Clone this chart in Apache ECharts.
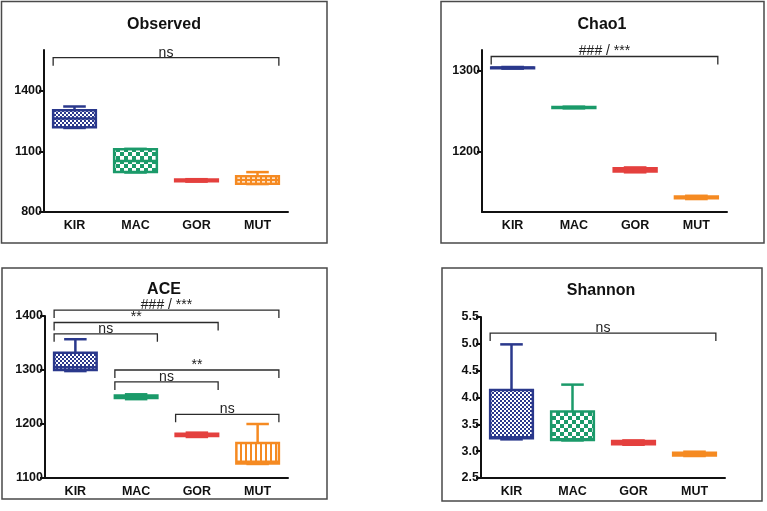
<!DOCTYPE html>
<html>
<head>
<meta charset="utf-8">
<script src="https://cdn.jsdelivr.net/npm/echarts@6/dist/echarts.min.js"></script>
<style>
html,body{margin:0;padding:0;background:#fff;}
#c{width:767px;height:511px;}
</style>
</head>
<body>
<div id="c"></div>
<script>
// ---------------- data ----------------
const categories = ['KIR', 'MAC', 'GOR', 'MUT'];
const panelTitles = ['Observed', 'Chao1', 'ACE', 'Shannon'];

// each box: [min, Q1, median, Q3, max]
const observedBoxes = [
  [1215, 1218, 1262, 1302, 1321],
  [995, 997, 1052, 1110, 1112],
  [950, 952, 956, 960, 962],
  [938, 940, 958, 977, 997]
];
const chao1Boxes = [
  [1302, 1302.5, 1303, 1303.5, 1304],
  [1253, 1253.5, 1254, 1254.5, 1255],
  [1174, 1175, 1177, 1179, 1180],
  [1141, 1142, 1143, 1144, 1145]
];
const aceBoxes = [
  [1298, 1300, 1305, 1332, 1357],
  [1246, 1248, 1250, 1253, 1255],
  [1176, 1178, 1180, 1182, 1184],
  [1126, 1127, 1130, 1165, 1200]
];
const shannonBoxes = [
  [3.22, 3.24, 3.26, 4.14, 4.99],
  [3.20, 3.21, 3.22, 3.74, 4.24],
  [3.12, 3.13, 3.16, 3.19, 3.20],
  [2.91, 2.92, 2.94, 2.97, 2.99]
];

// significance brackets: [fromCategory, toCategory, level, label]
const observedBrackets = [[0, 3, 1562, 'ns']];
const chao1Brackets = [[0, 3, 1317, '### / ***']];
const aceBrackets = [
  [0, 3, 1411, '### / ***'],
  [0, 2, 1388, '**'],
  [0, 1, 1367, 'ns'],
  [1, 3, 1300, '**'],
  [1, 2, 1278, 'ns'],
  [2, 3, 1218, 'ns']
];
const shannonBrackets = [[0, 3, 5.2, 'ns']];

// axis ranges and tick labels
const observedTicks = [800, 1100, 1400];
const chao1Ticks = [1200, 1300];
const aceTicks = [1100, 1200, 1300, 1400];
const shannonTicks = [2.5, 3.0, 3.5, 4.0, 4.5, 5.0, 5.5];
const yRanges = [[800, 1600], [1125, 1325], [1100, 1400], [2.5, 5.5]];

// ---------------- styles ----------------
const COLORS = ['#2a388c', '#1b9a6a', '#e4403e', '#f58a22'];
const FONT = 'Liberation Sans, Arial, sans-serif';

function checker(color, cell) {
  const c = document.createElement('canvas');
  c.width = cell * 2; c.height = cell * 2;
  const g = c.getContext('2d');
  g.fillStyle = '#ffffff'; g.fillRect(0, 0, c.width, c.height);
  g.fillStyle = color;
  g.fillRect(0, 0, cell, cell);
  g.fillRect(cell, cell, cell, cell);
  return c;
}
function vstripes(color) {
  const c = document.createElement('canvas');
  c.width = 5; c.height = 4;
  const g = c.getContext('2d');
  g.fillStyle = '#ffffff'; g.fillRect(0, 0, 5, 4);
  g.fillStyle = color; g.fillRect(0, 0, 2, 4);
  return c;
}
const FILLS = [
  { image: checker(COLORS[0], 2), repeat: 'repeat' },
  { image: checker(COLORS[1], 4), repeat: 'repeat' },
  COLORS[2],
  { image: vstripes(COLORS[3]), repeat: 'repeat' }
];

const boxesList = [observedBoxes, chao1Boxes, aceBoxes, shannonBoxes];
const bracketsList = [observedBrackets, chao1Brackets, aceBrackets, shannonBrackets];
const ticksList = [observedTicks, chao1Ticks, aceTicks, shannonTicks];

const grids = [
  { left: 44, top: 50, width: 244, height: 162 },
  { left: 482, top: 50, width: 245, height: 162 },
  { left: 45, top: 316, width: 243, height: 162 },
  { left: 481, top: 317, width: 244, height: 161 }
];
const frames = [
  [1.5, 1.5, 325.5, 241.5],
  [441, 1.5, 323, 241.5],
  [2, 268, 325, 231],
  [442, 268, 320, 233]
];
const titlePos = [[164, 25], [602, 25], [164, 290], [601, 291]];

function boxRender(pi) {
  return function (params, api) {
    const idx = api.value(0);
    const band = api.size([1, 0])[0];
    const bw = band * 0.7, cw = band * 0.37;
    const c = COLORS[idx];
    const pt = v => api.coord([idx, v]);
    const pMin = pt(api.value(1)), pQ1 = pt(api.value(2)), pMed = pt(api.value(3)),
          pQ3 = pt(api.value(4)), pMax = pt(api.value(5));
    const x = pMin[0];
    const lw = 2.5;
    const ls = { stroke: c, lineWidth: lw, lineCap: 'butt' };
    return {
      type: 'group',
      children: [
        { type: 'line', shape: { x1: x, y1: pMax[1], x2: x, y2: pQ3[1] }, style: ls },
        { type: 'line', shape: { x1: x, y1: pQ1[1], x2: x, y2: pMin[1] }, style: ls },
        { type: 'line', shape: { x1: x - cw / 2, y1: pMax[1], x2: x + cw / 2, y2: pMax[1] }, style: ls },
        { type: 'line', shape: { x1: x - cw / 2, y1: pMin[1], x2: x + cw / 2, y2: pMin[1] }, style: ls },
        { type: 'rect', shape: { x: x - bw / 2, y: pQ3[1], width: bw, height: Math.max(pQ1[1] - pQ3[1], 0.8) },
          style: { fill: FILLS[idx], stroke: c, lineWidth: lw } },
        { type: 'line', shape: { x1: x - bw / 2, y1: pMed[1], x2: x + bw / 2, y2: pMed[1] }, style: ls }
      ]
    };
  };
}

function bracketRender(pi) {
  const list = bracketsList[pi];
  return function (params, api) {
    const b = list[params.dataIndex];
    const band = api.size([1, 0])[0];
    const p1 = api.coord([api.value(0), api.value(2)]);
    const p2 = api.coord([api.value(1), api.value(2)]);
    const x1 = p1[0] - band * 0.35, x2 = p2[0] + band * 0.35, y = p1[1];
    const drop = 8;
    return {
      type: 'group',
      children: [
        { type: 'polyline', shape: { points: [[x1, y + drop], [x1, y], [x2, y], [x2, y + drop]] },
          style: { stroke: '#2b2b2b', lineWidth: 1.3, fill: null } },
        { type: 'text', x: (x1 + x2) / 2, y: y + 2,
          style: { text: b[3], align: 'center', verticalAlign: 'bottom', fontSize: 14,
                   fontFamily: FONT, fill: '#222' } }
      ]
    };
  };
}

const axisLineStyle = { color: '#111', width: 2 };

const option = {
  animation: false,
  backgroundColor: '#fff',
  graphic: [
    ...frames.map(f => ({ type: 'rect', shape: { x: f[0], y: f[1], width: f[2], height: f[3] },
      style: { fill: null, stroke: '#4a4a4a', lineWidth: 1.5 }, silent: true })),
    ...titlePos.map((p, i) => ({ type: 'text', x: p[0], y: p[1],
      style: { text: panelTitles[i], align: 'center', verticalAlign: 'middle',
               fontSize: 16, fontWeight: 'bold', fontFamily: FONT, fill: '#111' } }))
  ],
  grid: grids,
  xAxis: grids.map((g, i) => ({
    gridIndex: i, type: 'category', data: categories,
    axisLine: { lineStyle: axisLineStyle },
    axisTick: { alignWithLabel: true, length: 5, lineStyle: { color: '#111', width: 2 } },
    axisLabel: { color: '#111', fontWeight: 'bold', fontSize: 12.5, fontFamily: FONT, margin: 7 },
    splitLine: { show: false }
  })),
  yAxis: grids.map((g, i) => ({
    gridIndex: i, type: 'value', min: yRanges[i][0], max: yRanges[i][1],
    axisLine: { show: true, lineStyle: axisLineStyle },
    axisTick: { show: true, length: 5, customValues: ticksList[i], lineStyle: { color: '#111', width: 2 } },
    axisLabel: { customValues: ticksList[i], color: '#111', fontWeight: 'bold', fontSize: 12.5,
                 fontFamily: FONT, margin: 2,
                 formatter: v => (i === 3 ? Number(v).toFixed(1) : String(v)) },
    splitLine: { show: false }
  })),
  series: [
    ...boxesList.map((boxes, i) => ({
      type: 'custom', xAxisIndex: i, yAxisIndex: i, clip: false,
      renderItem: boxRender(i),
      encode: { x: 0, y: [1, 2, 3, 4, 5] },
      data: boxes.map((b, k) => [k, ...b])
    })),
    ...bracketsList.map((br, i) => ({
      type: 'custom', xAxisIndex: i, yAxisIndex: i, clip: false, z: 5,
      renderItem: bracketRender(i),
      encode: { x: [0, 1], y: 2 },
      data: br.map(b => [b[0], b[1], b[2]])
    }))
  ]
};

const chart = echarts.init(document.getElementById('c'));
chart.setOption(option);
</script>
</body>
</html>
